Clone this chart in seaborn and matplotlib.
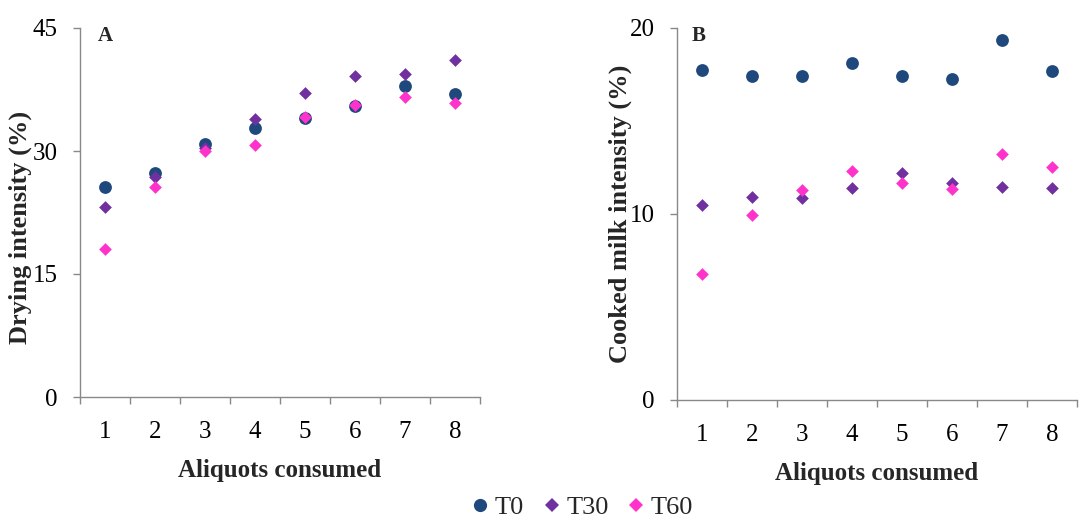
import matplotlib
matplotlib.use("Agg")
import matplotlib.pyplot as plt
import seaborn as sns
import numpy as np
from matplotlib.lines import Line2D

# ---- data ----
aliquots = [1, 2, 3, 4, 5, 6, 7, 8]
series_names = ["T0", "T30", "T60"]

drying_T0 = [25.6, 27.3, 30.8, 32.8, 34.0, 35.5, 37.9, 36.9]
drying_T30 = [23.2, 26.8, 30.4, 33.9, 37.1, 39.2, 39.4, 41.1]
drying_T60 = [18.1, 25.6, 30.0, 30.7, 34.1, 35.6, 36.6, 35.9]

cooked_T0 = [17.74, 17.4, 17.4, 18.14, 17.4, 17.26, 19.37, 17.7]
cooked_T30 = [10.5, 10.94, 10.87, 11.39, 12.22, 11.64, 11.43, 11.41]
cooked_T60 = [6.8, 9.96, 11.3, 12.33, 11.68, 11.36, 13.24, 12.52]

drying_ticks = [0, 15, 30, 45]
cooked_ticks = [0, 10, 20]

colors = {"T0": "#1F497D", "T30": "#7030A0", "T60": "#FF33CC"}
markers = {"T0": "o", "T30": "D", "T60": "D"}
sizes = {"T0": 85, "T30": 42, "T60": 42}

sns.set_theme(style="white")
plt.rcParams["font.family"] = ["Liberation Serif", "DejaVu Serif"]

fig = plt.figure(figsize=(10.92, 5.22), dpi=100)
axA = fig.add_axes([80 / 1092, (522 - 397) / 522, 400 / 1092, 369 / 522])
axB = fig.add_axes([677 / 1092, (522 - 400) / 522, 400 / 1092, 372 / 522])

grey = "#898989"


def draw(ax, vals, ticks, ylabel, letter, ylab_x, ylab_y, xlab_y, letter_x):
    for name, v in zip(series_names, vals):
        sns.scatterplot(x=aliquots, y=v, ax=ax, color=colors[name],
                        marker=markers[name], s=sizes[name], linewidth=0,
                        zorder=3, legend=False)
    ax.set_xlim(0.5, 8.5)
    ax.set_ylim(ticks[0], ticks[-1])
    ax.set_yticks(ticks)
    ax.set_yticklabels([str(t) for t in ticks], fontsize=18)
    ax.set_xticks(aliquots)
    ax.set_xticklabels([str(a) for a in aliquots], fontsize=18)
    ax.set_xticks(np.arange(0.5, 9.0, 1.0), minor=True)
    ax.tick_params(axis="x", which="major", length=0, pad=17, colors="black")
    ax.tick_params(axis="x", which="minor", length=5, width=1, color=grey,
                   direction="out", bottom=True)
    ax.tick_params(axis="y", which="major", length=5, width=1, color=grey,
                   direction="out", left=True, pad=11, labelcolor="black")
    for s in ["top", "right"]:
        ax.spines[s].set_visible(False)
    for s in ["left", "bottom"]:
        ax.spines[s].set_color(grey)
        ax.spines[s].set_linewidth(1)
    ax.grid(False)
    ax.set_xlabel("Aliquots consumed", fontsize=18, fontweight="bold", va="top")
    ax.xaxis.set_label_coords(0.5, xlab_y)
    ax.set_ylabel(ylabel, fontsize=19, fontweight="bold")
    ax.yaxis.set_label_coords(ylab_x, ylab_y)
    ax.text(letter_x, 1.005, letter, transform=ax.transAxes, fontsize=15,
            fontweight="bold", va="top", ha="left")


draw(axA, [drying_T0, drying_T30, drying_T60], drying_ticks,
     "Drying intensity (%)", "A", -0.12, 0.46, -0.168, 0.045)
draw(axB, [cooked_T0, cooked_T30, cooked_T60], cooked_ticks,
     "Cooked milk intensity (%)", "B", -0.112, 0.5, -0.167, 0.037)

handles = [Line2D([], [], linestyle="none", marker=markers[n], color=colors[n],
                  markersize=(9.5 if n == "T0" else 6.8), markeredgewidth=0)
           for n in series_names]
fig.legend(handles, series_names, loc="center", bbox_to_anchor=(580 / 1092, 1 - 507 / 522),
           ncol=3, frameon=False, fontsize=19, handletextpad=0.05,
           columnspacing=0.55, handlelength=1.0, borderpad=0.2)

fig.savefig("out.png", dpi=100)
